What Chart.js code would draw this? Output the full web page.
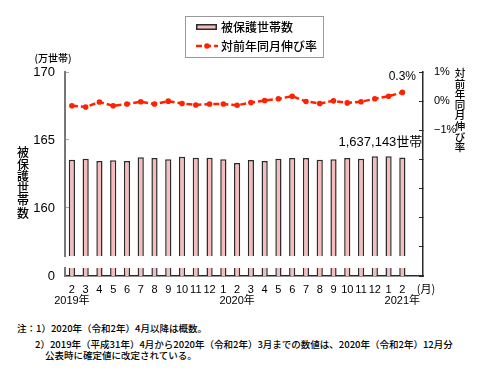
<!DOCTYPE html>
<html lang="ja">
<head>
<meta charset="utf-8">
<script src="https://cdn.jsdelivr.net/npm/chart.js@4.4.1/dist/chart.umd.min.js"></script>
<style>
  body { margin: 0; background: #fff; }
  #wrap { position: relative; width: 490px; height: 385px; }
  #chart { position: absolute; left: 0; top: 0; }
  .note { position: absolute; font: 500 9.5px 'Noto Sans CJK JP', sans-serif; color: #000; white-space: nowrap; }
</style>
</head>
<body>
<div id="wrap">
  <canvas id="chart" width="490" height="310"></canvas>
  <div class="note" style="left:17px; top:321px;">注：1）2020年（令和2年）4月以降は概数。</div>
  <div class="note" style="left:35px; top:337px;">2）2019年（平成31年）4月から2020年（令和2年）3月までの数値は、2020年（令和2年）12月分</div>
  <div class="note" style="left:45px; top:348px;">公表時に確定値に改定されている。</div>
</div>
<script>
// 月ラベル（最後の空欄は「(月)」の位置）
const monthLabels = ['2','3','4','5','6','7','8','9','10','11','12','1','2','3','4','5','6','7','8','9','10','11','12','1','2',''];
const yearMarks = [[0, '2019年'], [12, '2020年'], [24, '2021年']];

// 被保護世帯数（万世帯）
const households = [163.55, 163.63, 163.46, 163.51, 163.46, 163.73, 163.68, 163.58, 163.77, 163.70, 163.70, 163.58, 163.31,
                    163.52, 163.46, 163.63, 163.68, 163.68, 163.55, 163.58, 163.68, 163.63, 163.80, 163.80, 163.71];
// 対前年同月伸び率（%）
const growth = [-0.16, -0.20, -0.03, -0.16, -0.10, -0.02, -0.10, 0.00, -0.08, -0.13, -0.10, -0.10, -0.14,
                -0.05, 0.02, 0.08, 0.17, -0.01, -0.08, 0.01, -0.06, -0.02, 0.08, 0.17, 0.3];
const latestHouseholds = '1,637,143世帯';

// 軸の省略部分
const upperMin = 156.47;
const stubMax = 1;

const labels = monthLabels.map((m, i) => {
    const y = yearMarks.find(e => e[0] === i);
    return y ? [m, y[1]] : m;
});

const RED = '#ff2200';
const PINK = '#f6bcbc';
const DARK = '#2a2a2a';
const numFont = "'Liberation Sans', 'Noto Sans CJK JP', sans-serif";
const jpFont = "'Noto Sans CJK JP', sans-serif";

function fixWidth(w) {
    return function(scale) { scale.width = w; };
}

function drawVertical(ctx, text, x, y, step) {
    [...text].forEach((ch, i) => ctx.fillText(ch, x, y + i * step));
}

// 凡例・軸タイトル・注記
const decorPlugin = {
    id: 'decor',
    afterDraw(chart) {
        const ctx = chart.ctx;
        const area = chart.chartArea;
        const ds = chart.data.datasets;
        ctx.save();

        // 凡例
        ctx.strokeStyle = '#999';
        ctx.lineWidth = 1;
        ctx.strokeRect(185.5, 16.5, 138, 41);
        ctx.fillStyle = DARK;
        ctx.fillRect(196, 24, 21, 6);
        ctx.fillStyle = PINK;
        ctx.fillRect(197.5, 25.5, 18, 3);
        ctx.strokeStyle = RED;
        ctx.lineWidth = 2.5;
        ctx.setLineDash([6, 3]);
        ctx.beginPath();
        ctx.moveTo(196, 46);
        ctx.lineTo(218, 46);
        ctx.stroke();
        ctx.setLineDash([]);
        ctx.fillStyle = RED;
        ctx.beginPath();
        ctx.arc(207, 46, 2.8, 0, Math.PI * 2);
        ctx.fill();
        ctx.fillStyle = '#000';
        ctx.font = '500 12px ' + jpFont;
        ctx.textAlign = 'left';
        ctx.textBaseline = 'middle';
        ctx.fillText(ds[0].label, 221, 27);
        ctx.fillText(ds[2].label, 221, 46);

        // 軸タイトル
        ctx.font = '500 10px ' + jpFont;
        ctx.textAlign = 'center';
        ctx.fillText('(万世帯)', 53, 58);
        ctx.font = '500 12px ' + jpFont;
        drawVertical(ctx, '被保護世帯数', 23, 152, 12.2);
        ctx.font = '500 10.5px ' + jpFont;
        drawVertical(ctx, '対前年同月伸び率', 460, 73, 10.6);
        ctx.font = '11px ' + jpFont;
        ctx.fillText('(月)', area.right + 3, 289);

        // データラベル
        const lineMeta = chart.getDatasetMeta(2);
        const lastPt = lineMeta.data[lineMeta.data.length - 1];
        ctx.font = '12px ' + numFont;
        ctx.fillText(growth[growth.length - 1].toFixed(1) + '%', lastPt.x, lastPt.y - 16);

        const barMeta = chart.getDatasetMeta(0);
        const lastBar = barMeta.data[barMeta.data.length - 1];
        ctx.font = '13px ' + numFont;
        ctx.textAlign = 'right';
        ctx.fillText(latestHouseholds, lastBar.x + 20, lastBar.y - 15);

        ctx.restore();
    }
};

const ctx = document.getElementById('chart').getContext('2d');
new Chart(ctx, {
    type: 'bar',
    data: {
        labels: labels,
        datasets: [
            {
                label: '被保護世帯数',
                data: households,
                yAxisID: 'y',
                grouped: false,
                order: 2,
                backgroundColor: PINK,
                borderColor: DARK,
                borderWidth: { top: 1.5, left: 1.5, right: 1.5, bottom: 0 },
                borderSkipped: false,
                barPercentage: 0.5,
                categoryPercentage: 0.9
            },
            {
                label: '被保護世帯数（省略部）',
                data: households.map(v => Math.min(v, stubMax)),
                yAxisID: 'y0',
                grouped: false,
                order: 2,
                backgroundColor: PINK,
                borderColor: DARK,
                borderWidth: { top: 0, left: 1.5, right: 1.5, bottom: 0 },
                borderSkipped: false,
                barPercentage: 0.5,
                categoryPercentage: 0.9
            },
            {
                type: 'line',
                label: '対前年同月伸び率',
                data: growth,
                yAxisID: 'y1',
                order: 0,
                borderColor: RED,
                backgroundColor: RED,
                borderWidth: 2.5,
                borderDash: [6, 3],
                pointRadius: 2.8,
                pointBorderWidth: 0,
                tension: 0
            }
        ]
    },
    options: {
        responsive: false,
        animation: false,
        layout: { padding: { top: 72, left: 0, right: 0, bottom: 0 } },
        plugins: {
            legend: { display: false },
            tooltip: { enabled: false }
        },
        scales: {
            x: {
                grid: { display: false, drawTicks: false },
                border: { display: true, color: DARK, width: 1.5 },
                ticks: {
                    autoSkip: false,
                    maxRotation: 0,
                    padding: 8,
                    color: '#000',
                    font: { family: numFont, size: 11, lineHeight: 1.0 }
                },
                afterFit: function(scale) { scale.height = 34; }
            },
            y0: {
                type: 'linear',
                position: 'left',
                stack: 'left',
                stackWeight: 8,
                min: 0,
                max: stubMax,
                grid: { display: false, drawTicks: false },
                border: { display: true, color: '#777', width: 2 },
                ticks: {
                    stepSize: 1,
                    padding: 10,
                    color: '#000',
                    font: { family: numFont, size: 13 },
                    callback: v => v === 0 ? '0' : ''
                },
                afterFit: fixWidth(65)
            },
            yGap: {
                type: 'linear',
                position: 'left',
                stack: 'left',
                stackWeight: 12,
                min: 0,
                max: 1,
                grid: { display: false, drawTicks: false },
                border: { display: false },
                ticks: { display: false },
                afterFit: fixWidth(65)
            },
            y: {
                type: 'linear',
                position: 'left',
                stack: 'left',
                stackWeight: 184,
                min: upperMin,
                max: 170,
                grid: { drawOnChartArea: false, color: '#aaa', tickLength: -4 },
                border: { display: true, color: '#777', width: 2 },
                ticks: {
                    stepSize: 5,
                    padding: 14,
                    color: '#000',
                    font: { family: numFont, size: 13 }
                },
                afterBuildTicks: function(scale) {
                    scale.ticks = scale.ticks.filter(t => t.value % 5 === 0);
                },
                afterFit: fixWidth(65)
            },
            y1: {
                type: 'linear',
                position: 'right',
                min: -6,
                max: 1,
                grid: { drawOnChartArea: false, color: DARK, tickLength: -4 },
                border: { display: true, color: DARK, width: 1.5 },
                ticks: {
                    stepSize: 1,
                    padding: 15,
                    crossAlign: 'near',
                    color: '#000',
                    font: { family: numFont, size: 11 },
                    callback: v => v >= -1 ? (v < 0 ? '−' + Math.abs(v) : v) + '%' : ''
                },
                afterFit: fixWidth(67)
            }
        }
    },
    plugins: [decorPlugin]
});
</script>
</body>
</html>
